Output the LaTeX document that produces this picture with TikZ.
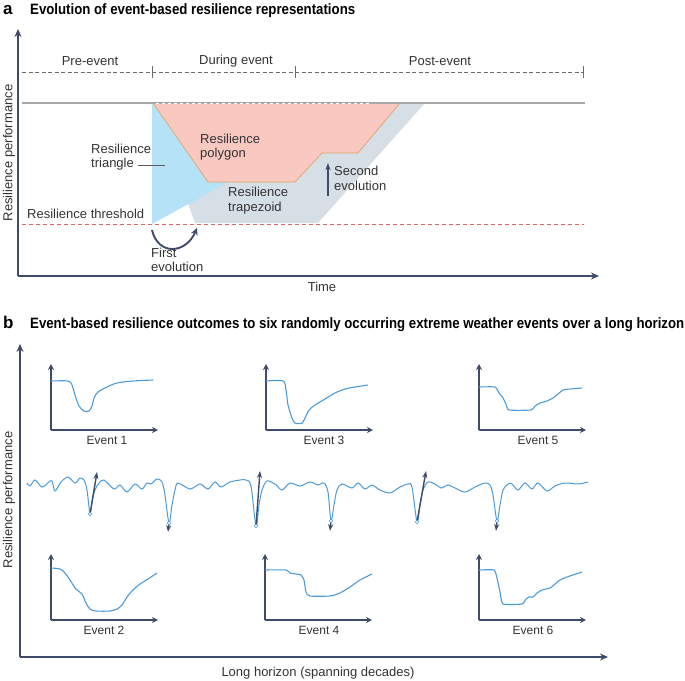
\documentclass[tikz,border=0pt]{standalone}
\usepackage{graphicx}
\usepackage{fontspec}
\setmainfont{Liberation Sans}
\usetikzlibrary{arrows.meta}
\definecolor{navy}{HTML}{3E4C6A}
\definecolor{cblue}{HTML}{4B9BDA}
\definecolor{txt}{HTML}{333333}
\definecolor{trifill}{HTML}{B5E2F6}
\definecolor{polyfill}{HTML}{F8C8C1}
\definecolor{trapfill}{HTML}{D6DEE6}
\definecolor{polyedge}{HTML}{DDA868}
\definecolor{redth}{HTML}{E06666}
\definecolor{grayline}{HTML}{A8A8A8}
\tikzset{
  bigaxis/.style={draw=navy, line width=2.3pt, -{Stealth[length=8pt,width=7pt]}},
  smallaxis/.style={draw=navy, line width=1.7pt, -{Stealth[length=6pt,width=6pt]}},
  curve/.style={draw=cblue, line width=1.1pt, smooth, tension=0.5},
  lbl/.style={inner sep=0pt, text=txt, font=\fontsize{13}{14.5}\selectfont},
  evlbl/.style={inner sep=0pt, text=txt, font=\fontsize{12}{14}\selectfont},
  evarrow/.style={draw=navy, line width=1.4pt, -{Stealth[length=7pt,width=5pt]}},
  dipdot/.style={circle, draw=cblue, fill=white, line width=0.6pt, minimum size=3.4pt, inner sep=0pt},
  phase/.style={draw=gray!85!black, line width=0.8pt, dash pattern=on 4pt off 2.5pt},
}
\begin{document}
\begin{tikzpicture}[x=1pt,y=-1pt]
\useasboundingbox (0,0) rectangle (685,680);

% ---------------- panel a ----------------
\node[anchor=base west, inner sep=0pt, text=black] (la) at (3,14) {\bfseries\fontsize{17}{19}\selectfont a};
\node[anchor=base west, inner sep=0pt, text=black] (ta) at (30,14) {\resizebox{325pt}{\height}{\bfseries\fontsize{15}{17}\selectfont Evolution of event-based resilience representations}};

\coordinate (aO) at (18,276);
\coordinate (aY) at (18,29);
\coordinate (aX) at (599,276);

% phase line
\coordinate (p0) at (22,72);
\coordinate (p1) at (152,72);
\coordinate (p2) at (295,72);
\coordinate (p3) at (583,72);
\draw[phase] (p0) -- (p3);
\foreach \x in {152,295,583} \draw[gray!85!black, line width=0.8pt] (\x,66) -- (\x,78);
\node[lbl] (pre) at (90,61) {Pre-event};
\node[lbl] (dur) at (236,61) {During event};
\node[lbl] (post) at (440,61) {Post-event};

% threshold
\coordinate (th0) at (22,224);
\coordinate (th1) at (584,224);
\draw[redth, line width=1pt, dash pattern=on 4pt off 3pt] (th0) -- (th1);

% trapezoid
\fill[trapfill] (152,103) -- (195,223) -- (318,223) -- (425,103) -- cycle;
% triangle
\fill[trifill] (152,103) -- (152,224) -- (373,103) -- cycle;
% polygon
\fill[polyfill] (153,103) -- (208,182) -- (295,182) -- (322,153) -- (358,153) -- (400,103) -- cycle;
\draw[polyedge, line width=0.7pt] (153,103) -- (208,182) -- (295,182) -- (322,153) -- (358,153) -- (400,103);

% top full-performance line
\coordinate (g0) at (22,103);
\coordinate (g1) at (585,103);
\draw[grayline, line width=1.3pt] (g0) -- (g1);
\draw[white, line width=0.5pt, dash pattern=on 3pt off 3pt] (156,103) -- (372,103);

% axes a
\draw[bigaxis] (aO) -- (aY);
\draw[bigaxis] (aO) -- (aX);
\node[lbl] (time) at (322,287) {Time};
\node[lbl, rotate=90] (ya) at (9,153) {Resilience performance};

% labels a
\node[lbl, anchor=west, align=left] (poly) at (200,147) {Resilience\\polygon};
\node[lbl, anchor=west, align=left] (tri) at (91,157) {Resilience\\triangle};
\coordinate (triend) at (165,165);
\draw[txt!80, line width=0.5pt] (138,165) -- (triend);
\node[lbl, anchor=west, align=left] (trap) at (228,200.5) {Resilience\\trapezoid};
\node[lbl, anchor=west, align=left] (sec) at (334,178.5) {Second\\evolution};
\coordinate (s0) at (328,196);
\coordinate (s1) at (328,163);
\draw[evarrow, line width=1.6pt] (s0) -- (s1);
\node[lbl, anchor=west] (thr) at (27,214) {Resilience threshold};
\coordinate (f0) at (152,230);
\coordinate (f1) at (197,228);
\draw[draw=navy, line width=1.9pt, -{Stealth[length=7pt,width=7pt]}] (f0) .. controls (158,256) and (186,254) .. (f1);
\node[lbl, anchor=west, align=left] (fe) at (151,260) {First\\evolution};

% ---------------- panel b ----------------
\node[anchor=base west, inner sep=0pt, text=black] (lb) at (3,328) {\bfseries\fontsize{17}{19}\selectfont b};
\node[anchor=base west, inner sep=0pt, text=black] (tb) at (30,328) {\resizebox{654pt}{\height}{\bfseries\fontsize{15}{17}\selectfont Event-based resilience outcomes to six randomly occurring extreme weather events over a long horizon}};

\coordinate (bO) at (20,657);
\coordinate (bY) at (20,344);
\coordinate (bX) at (608,657);
\draw[bigaxis] (bO) -- (bY);
\draw[bigaxis] (bO) -- (bX);
\node[lbl, rotate=90] (yb) at (9,500) {Resilience performance};
\node[lbl] (lh) at (318,673) {Long horizon (spanning decades)};

% small graphs: axes
\foreach \n/\ox/\oy/\lx in {1/51/430/107, 3/266/430/324, 5/479/430/538, 2/51/620/104, 4/265/620/319, 6/479/620/533}{
  \coordinate (o\n) at (\ox,\oy);
  \coordinate (y\n) at (\ox,\oy-66);
  \coordinate (x\n) at (\ox+107,\oy);
  \draw[smallaxis] (o\n) -- (y\n);
  \draw[smallaxis] (o\n) -- (x\n);
  \node[evlbl] (e\n) at (\lx,\oy+10) {Event \n};
}

% curves
\draw[curve] plot coordinates {(51,381) (68,381) (72,385) (75,395) (79,406) (84,411) (89,411) (92,406) (94,398) (98,392) (107,387) (117,383) (133,381) (153,380)};
\draw[curve] plot coordinates {(266,381) (283,381) (286,390) (288,405) (292,418) (295,423) (302,423) (306,416) (309,410) (315,405) (325,399) (335,393) (345,389) (355,387) (368,385)};
\draw[curve, tension=0.3] plot coordinates {(479,387) (495,387) (499,393) (503,398) (506,404) (509,410) (531,410) (535,406) (540,403) (547,401) (553,398) (558,394) (563,390) (570,389) (582,388)};
\draw[curve] plot coordinates {(51,568) (60,569) (65,573) (70,580) (76,589) (82,594) (86,603) (90,609) (96,611) (110,611) (117,609) (122,605) (127,597) (133,590) (140,584) (148,579) (157,573)};
\draw[curve, tension=0.4] plot coordinates {(265,570) (286,570) (290,573) (296,574) (301,575) (304,580) (306,592) (310,596) (330,596) (340,593) (350,587) (360,580) (372,574)};
\draw[curve, tension=0.3] plot coordinates {(479,570) (494,570) (497,578) (500,592) (503,604) (522,604) (526,599) (529,597) (533,597) (537,593) (542,590) (550,588) (555,584) (560,580) (567,577) (582,572)};

% long horizon wave
\draw[curve, line width=1pt, tension=0.5] plot coordinates {(27,483) (30,486) (35,480) (42,487) (49,482) (52,481) (55,491) (61,482) (68,477) (75,483) (80,478) (84,480) (87,490) (90,514) (92,502) (95,490) (99,483) (104,480) (114,489) (120,485) (127,492) (135,484) (142,489) (147,483) (151,484) (157,479) (162,482) (165,495) (169,523) (172,505) (175,490) (178,483) (190,489) (200,484) (208,489) (215,482) (221,487) (230,482) (240,480) (246,480) (251,486) (256,526) (259,505) (262,490) (267,481) (275,484) (282,490) (290,483) (300,486) (310,482) (318,485) (324,483) (328,492) (331,521) (334,505) (337,490) (342,484) (352,488) (358,483) (365,489) (372,485) (380,490) (390,493) (400,487) (408,484) (412,487) (417,522) (420,505) (423,490) (428,482) (435,484) (441,488) (448,485) (455,488) (465,492) (475,487) (485,483) (490,485) (493,495) (497,521) (500,505) (503,490) (508,484) (512,484) (518,490) (525,483) (532,489) (538,483) (547,491) (555,486) (565,483) (578,484) (588,482)};

% event arrows and dips
\foreach \n/\dx/\dy/\tx/\ty in {1/90/514/97/472, 2/169/523/168/532, 3/256/526/260/471, 4/331/521/330/531, 5/417/522/426/471, 6/497/521/496/531}{
  \coordinate (t\n) at (\tx,\ty);
  \coordinate (dc\n) at (\dx,\dy);
  \draw[evarrow] (dc\n) -- (t\n);
  \node[dipdot] (d\n) at (dc\n) {};
}
\end{tikzpicture}
\end{document}
